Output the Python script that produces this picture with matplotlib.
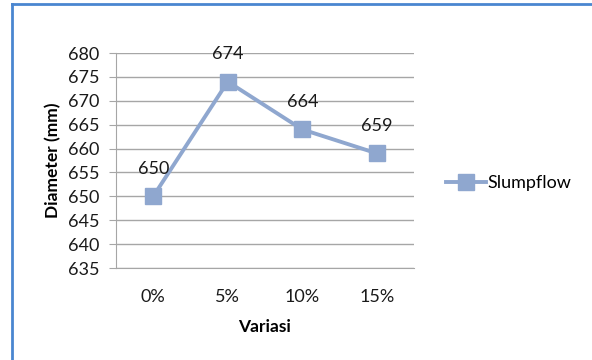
import matplotlib.pyplot as plt
from matplotlib.lines import Line2D

CATEGORIES = ["0%", "5%", "10%", "15%"]
SLUMPFLOW = [650, 674, 664, 659]
Y_TICKS = list(range(635, 681, 5))

LINE_COLOR = "#8fa7cf"
GRID_COLOR = "#a6a6a6"
TEXT_COLOR = "#1a1a1a"

plt.rcParams["font.family"] = ["Lato", "DejaVu Sans"]

fig = plt.figure(figsize=(5.92, 3.6), dpi=100)
ax = fig.add_axes([116 / 592, 1 - 268 / 360, 298 / 592, 215 / 360])

x = list(range(len(CATEGORIES)))
ax.plot(x, SLUMPFLOW, color=LINE_COLOR, linewidth=2.8, marker="s",
        markersize=11, markeredgecolor=LINE_COLOR, label="Slumpflow")

for xi, val in zip(x, SLUMPFLOW):
    ax.annotate(str(val), (xi, val), xytext=(0, 20), textcoords="offset points",
                ha="center", va="center", fontsize=13, color=TEXT_COLOR)

ax.set_xlim(-0.5, len(CATEGORIES) - 0.5)
ax.set_ylim(635, 680)
ax.set_yticks(Y_TICKS)
ax.set_xticks(x)
ax.set_xticklabels(CATEGORIES)
ax.yaxis.grid(True, color=GRID_COLOR, linewidth=1)
ax.set_axisbelow(True)

for side in ["top", "right"]:
    ax.spines[side].set_visible(False)
ax.spines["left"].set_color(GRID_COLOR)
ax.spines["bottom"].set_color(GRID_COLOR)
ax.tick_params(axis="y", length=5, color=GRID_COLOR, labelsize=13, pad=7,
               labelcolor=TEXT_COLOR)
ax.tick_params(axis="x", length=0, labelsize=13, pad=15, labelcolor=TEXT_COLOR)

ax.set_ylabel("Diameter (mm)", fontsize=12.5, fontweight="bold", labelpad=5)
ax.set_xlabel("Variasi", fontsize=12.5, fontweight="bold", labelpad=10)

handle = Line2D([], [], color=LINE_COLOR, linewidth=2.8, marker="s",
                markersize=11, markeredgecolor=LINE_COLOR)
fig.legend([handle], ["Slumpflow"], loc="center left",
           bbox_to_anchor=(430 / 592, 1 - 183 / 360), frameon=False,
           fontsize=13, handlelength=2.2, handletextpad=0.1)

# chart frame on the left and top edges
fig.add_artist(Line2D([12 / 592, 12 / 592], [0, 1 - 4 / 360],
                      transform=fig.transFigure, color="#4a86d0", linewidth=2))
fig.add_artist(Line2D([12 / 592, 1], [1 - 4 / 360, 1 - 4 / 360],
                      transform=fig.transFigure, color="#4a86d0", linewidth=2))

fig.savefig("out.png", dpi=100)
